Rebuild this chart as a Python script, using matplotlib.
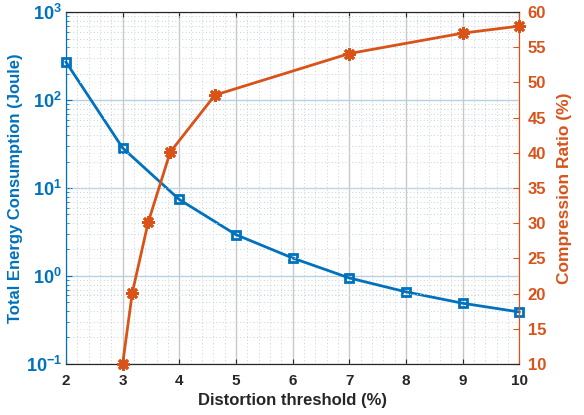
import math
import matplotlib
matplotlib.use('Agg')
import matplotlib.pyplot as plt
from matplotlib.ticker import FuncFormatter, LogLocator, NullFormatter, MultipleLocator

plt.rcParams['font.family'] = ['Liberation Sans', 'DejaVu Sans']
plt.rcParams['font.weight'] = 'bold'
plt.rcParams['mathtext.fontset'] = 'custom'
plt.rcParams['mathtext.rm'] = 'Liberation Sans:bold'
plt.rcParams['mathtext.bf'] = 'Liberation Sans:bold'
plt.rcParams['mathtext.default'] = 'bf'

# data
thr_energy = [2, 3, 4, 5, 6, 7, 8, 9, 10]
energy = [270, 28.5, 7.4, 2.95, 1.6, 0.95, 0.66, 0.49, 0.39]

thr_ratio = [3, 3.17, 3.45, 3.84, 4.63, 7, 9, 10]
ratio = [10, 20.1, 30.1, 40.1, 48.2, 54.1, 57, 58]

blue = '#0072BD'
orange = '#D95319'

fig = plt.figure(figsize=(5.84, 4.15), dpi=100)
ax = fig.add_axes([0.113, 0.123, 0.776, 0.848])
ax2 = ax.twinx()

ax.set_yscale('log')
ax.set_xlim(2, 10)
ax.set_ylim(1e-1, 1e3)
ax2.set_ylim(10, 60)

# grids
ax.set_axisbelow(True)
ax.xaxis.set_minor_locator(MultipleLocator(0.2))
ax.yaxis.set_major_locator(LogLocator(base=10, numticks=10))
ax.yaxis.set_minor_locator(LogLocator(base=10, subs=range(2, 10), numticks=20))
ax.yaxis.set_minor_formatter(NullFormatter())
ax.grid(True, which='major', axis='x', color='#c8c8c8', lw=1.0, ls='-')
ax.grid(True, which='major', axis='y', color='#b8d0e0', lw=1.0, ls='-')
ax.grid(True, which='minor', color='#c4d2dc', lw=0.7, ls=(0, (1, 2.5)))
ax2.yaxis.set_major_locator(MultipleLocator(5))
ax2.grid(True, which='major', axis='y', color='#dce6ee', lw=0.7, ls=(0, (1, 2.5)))

ax.plot(thr_energy, energy, color=blue, lw=2, marker='s', ms=6,
        mfc='none', mec=blue, mew=2, clip_on=False, zorder=5)
ax2.plot(thr_ratio, ratio, color=orange, lw=2, marker=(8, 2, 0), ms=9,
         mec=orange, mew=2, clip_on=False, zorder=5)

ax.yaxis.set_major_formatter(FuncFormatter(lambda v, p: r'$10^{%d}$' % round(math.log10(v))))

ax.tick_params(axis='both', which='both', direction='in', top=True)
ax.tick_params(axis='x', which='minor', length=0)
ax.tick_params(axis='x', colors='#262626', labelsize=11, pad=7)
ax.tick_params(axis='y', which='major', colors=blue, labelsize=13, length=4, pad=3)
ax.tick_params(axis='y', which='minor', colors=blue, length=2.5)
ax2.tick_params(axis='y', which='both', direction='in', colors=orange, labelsize=12, length=4, pad=6)

for a in (ax, ax2):
    a.spines['left'].set_color(blue)
    a.spines['right'].set_color(orange)
    a.spines['top'].set_color('#262626')
    a.spines['bottom'].set_color('#262626')

ax.set_xticks(range(2, 11))
ax.set_xlabel('Distortion threshold (%)', fontsize=12, fontweight='bold', color='#262626', labelpad=4)
ax.set_ylabel('Total Energy Consumption (Joule)', fontsize=12, fontweight='bold', color=blue, labelpad=2)
ax2.set_ylabel('Compression Ratio (%)', fontsize=12.5, fontweight='bold', color=orange, labelpad=8)

for lab in ax.get_xticklabels() + ax2.get_yticklabels():
    lab.set_fontweight('bold')

fig.savefig('out.png', dpi=100)
